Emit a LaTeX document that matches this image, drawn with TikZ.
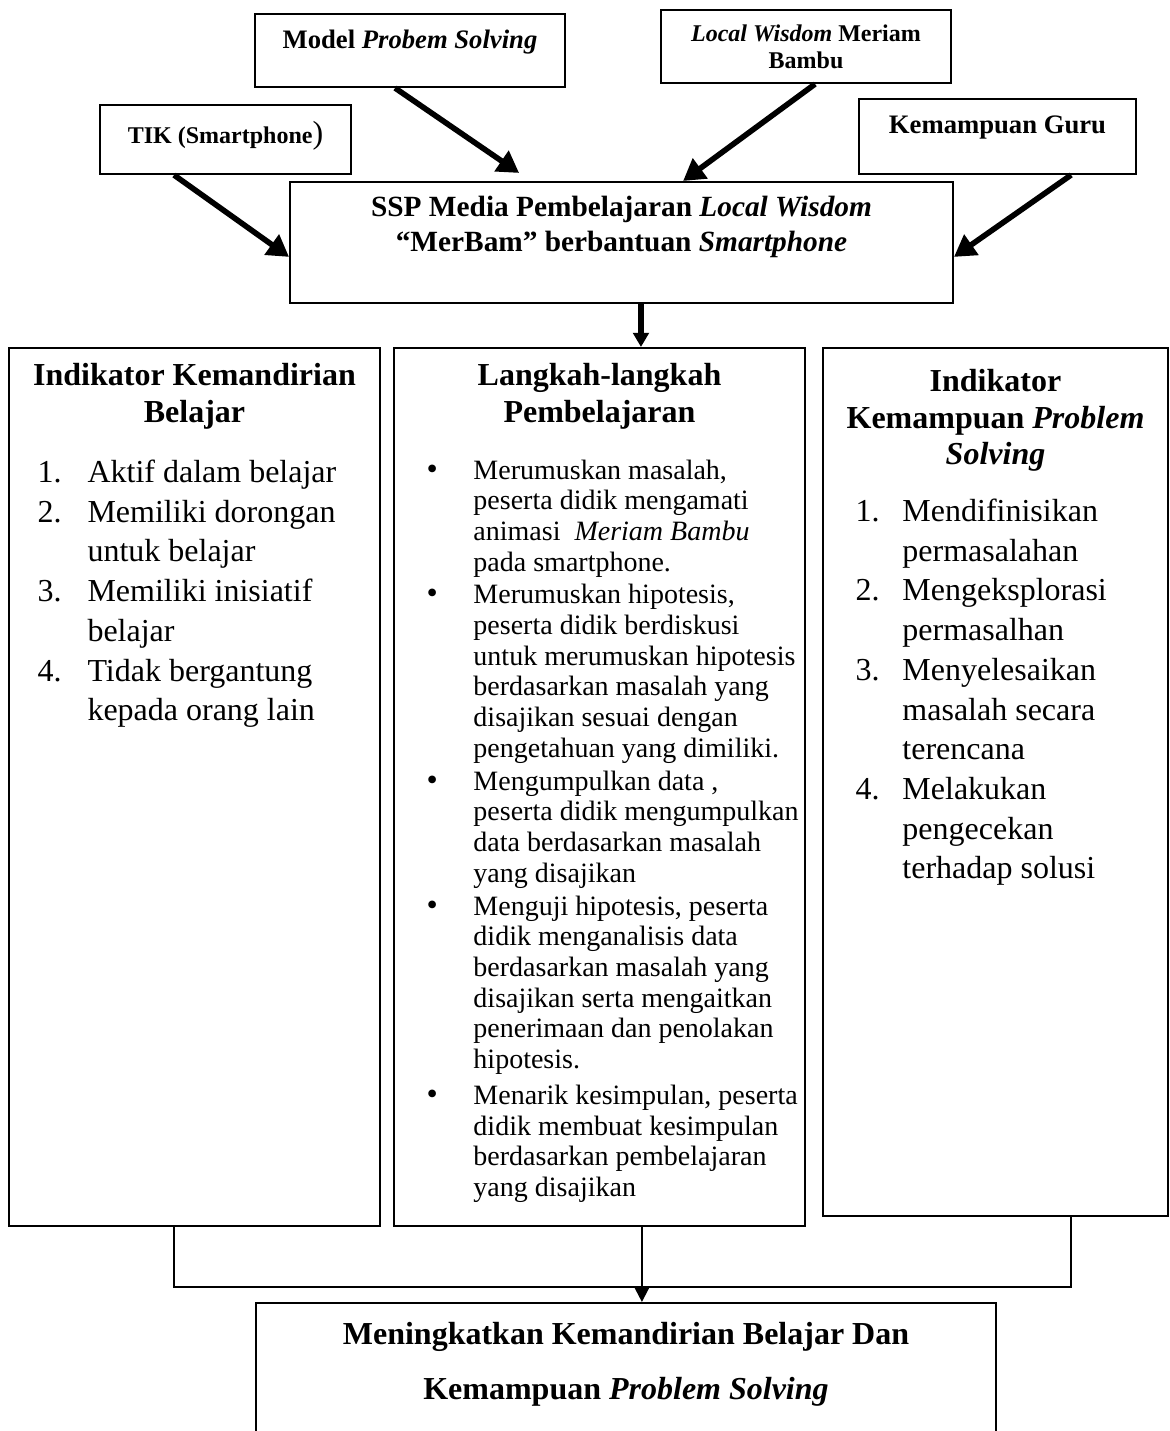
\documentclass[tikz,border=0pt]{standalone}
\usepackage{fontspec}
\setmainfont{Liberation Serif}
\usetikzlibrary{arrows.meta, positioning}

\begin{document}
\begin{tikzpicture}[
    x=0.375pt, y=-0.375pt,
    box/.style={rectangle, draw, line width=0.75pt, inner sep=0pt, align=center},
    head/.style={font=\fontsize{12}{13.9}\selectfont\bfseries, align=center, inner sep=0pt},
    push/.style={line width=2.1pt, -{Triangle[length=8pt, width=9pt]}},
    wire/.style={line width=0.75pt}
]
    \useasboundingbox (0,0) rectangle (1170,1431);

    % Input boxes
    \node[box, minimum width=116.25pt, minimum height=27.4pt, text depth=8.6pt,
          font=\fontsize{10}{12}\selectfont\bfseries] (model) at (410, 50.5) {Model \textit{Probem Solving}};
    \node[box, minimum width=108.75pt, minimum height=27.4pt,
          font=\fontsize{9}{10.1}\selectfont\bfseries] (local) at (806, 46.5) {\textit{Local Wisdom} Meriam\\Bambu};
    \node[box, minimum width=94.1pt, minimum height=25.9pt, text height=6pt, text depth=3pt,
          font=\fontsize{9}{11}\selectfont\bfseries] (tik) at (225.5, 139.5) {TIK (Smartphone{\mdseries\fontsize{12}{14}\selectfont)}};
    \node[box, minimum width=103.9pt, minimum height=28.1pt, text depth=8.6pt,
          font=\fontsize{10}{12}\selectfont\bfseries] (guru) at (997.5, 136.5) {Kemampuan Guru};
    \node[box, minimum width=248.6pt, minimum height=45.4pt, text depth=13.9pt,
          font=\fontsize{11}{13.1}\selectfont\bfseries] (ssp) at (621.5, 242.5)
          {SSP Media Pembelajaran \textit{Local Wisdom}\\``MerBam'' berbantuan \textit{Smartphone}};

    \draw[push] ([xshift=-5.6pt]model.south) -- ([xshift=-38.4pt, yshift=3pt]ssp.north);
    \draw[push] ([xshift=3.4pt]local.south) -- ([xshift=23.1pt]ssp.north);
    \draw[push] ([xshift=-19.3pt]tik.south) -- ([yshift=-5.4pt]ssp.west);
    \draw[push] ([xshift=27.6pt]guru.south) -- ([yshift=-5.4pt]ssp.east);

    % Three columns
    \node[box, minimum width=139.1pt, minimum height=329.25pt] (kmd) at (194.5, 787) {};
    \node[box, minimum width=154.1pt, minimum height=329.25pt] (langkah) at (599.5, 787) {};
    \node[box, minimum width=129.4pt, minimum height=325.5pt] (kps) at (995.5, 782) {};

    \coordinate (feed) at ([xshift=7.3pt]ssp.south);
    \draw[line width=2.1pt, -{Triangle[length=5.3pt, width=5.8pt]}] (feed) -- (feed |- langkah.north);

    \node[head, below=6pt of kmd.north] (kmdhead) {Indikator Kemandirian\\Belajar};
    \node[head, below=6pt of langkah.north] (langkahhead) {Langkah-langkah\\Pembelajaran};
    \node[head, font=\fontsize{12}{13.6}\selectfont\bfseries, below=8.3pt of kps.north] (kpshead)
          {Indikator\\Kemampuan \textit{Problem}\\\textit{Solving}};

    \node[anchor=north west, inner sep=0pt, font=\fontsize{12}{14.9}\selectfont] (kmdlist) at (37, 454) {%
      \begin{tabular}{@{}p{18.75pt}@{}l@{}}
        1. & Aktif dalam belajar\\
        2. & Memiliki dorongan\\
           & untuk belajar\\
        3. & Memiliki inisiatif\\
           & belajar\\
        4. & Tidak bergantung\\
           & kepada orang lain
      \end{tabular}};

    \node[anchor=north west, inner sep=0pt, font=\fontsize{10.5}{11.5}\selectfont] (langkahlist) at (426, 457) {%
      \begin{tabular}{@{}p{17.6pt}@{}l@{}}
        {\large\textbullet} & Merumuskan masalah,\\
                    & peserta didik mengamati\\
                    & animasi\enspace\textit{Meriam Bambu}\\
                    & pada smartphone.\\[0.8pt]
        {\large\textbullet} & Merumuskan hipotesis,\\
                    & peserta didik berdiskusi\\
                    & untuk merumuskan hipotesis\\
                    & berdasarkan masalah yang\\
                    & disajikan sesuai dengan\\
                    & pengetahuan yang dimiliki.\\[0.9pt]
        {\large\textbullet} & Mengumpulkan data ,\\
                    & peserta didik mengumpulkan\\
                    & data berdasarkan masalah\\
                    & yang disajikan\\[0.8pt]
        {\large\textbullet} & Menguji hipotesis, peserta\\
                    & didik menganalisis data\\
                    & berdasarkan masalah yang\\
                    & disajikan serta mengaitkan\\
                    & penerimaan dan penolakan\\
                    & hipotesis.\\[2pt]
        {\large\textbullet} & Menarik kesimpulan, peserta\\
                    & didik membuat kesimpulan\\
                    & berdasarkan pembelajaran\\
                    & yang disajikan
      \end{tabular}};

    \node[anchor=north west, inner sep=0pt, font=\fontsize{12}{14.9}\selectfont] (kpslist) at (855, 493) {%
      \begin{tabular}{@{}p{17.6pt}@{}l@{}}
        1. & Mendifinisikan\\
           & permasalahan\\
        2. & Mengeksplorasi\\
           & permasalhan\\
        3. & Menyelesaikan\\
           & masalah secara\\
           & terencana\\
        4. & Melakukan\\
           & pengecekan\\
           & terhadap solusi
      \end{tabular}};

    % Result
    \node[box, minimum width=277.5pt, minimum height=58.9pt] (hasil) at (626, 1381.5) {};
    \node[head, font=\fontsize{12}{20.6}\selectfont\bfseries, below=7.6pt of hasil.north] (hasiltext)
          {Meningkatkan Kemandirian Belajar Dan\\Kemampuan \textit{Problem Solving}};

    \coordinate (merge) at ([xshift=15.9pt, yshift=-22.5pt]langkah.south);
    \draw[wire] ([xshift=-7.7pt]kmd.south) |- (merge) -| ([xshift=28.3pt]kps.south);
    \draw[wire, -{Triangle[length=5.6pt, width=5.6pt]}] (merge |- langkah.south) -- (merge |- hasil.north);
\end{tikzpicture}
\end{document}
